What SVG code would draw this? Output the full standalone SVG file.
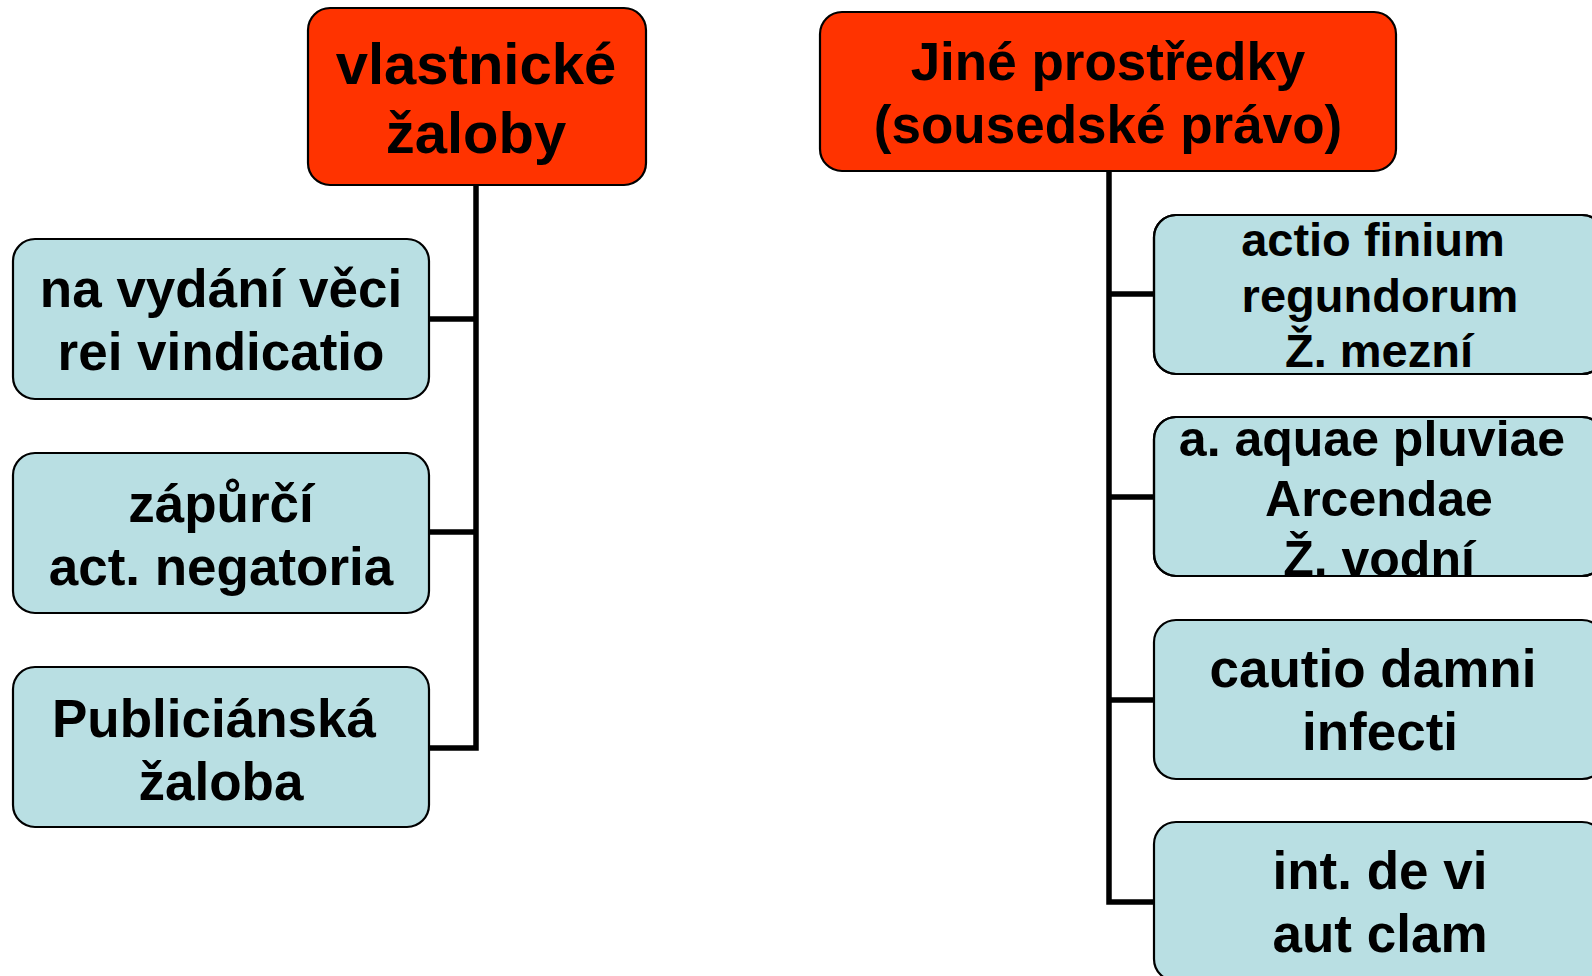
<svg xmlns="http://www.w3.org/2000/svg" width="1592" height="976" viewBox="0 0 1592 976">
<style>
.hdr{fill:#FF3300;stroke:#000;stroke-width:2.2}
.child{fill:#B9DFE3;stroke:#000;stroke-width:2.2}
.edge{fill:none;stroke:#000;stroke-width:2.2}
.t{font-family:"Liberation Sans",Arial,sans-serif;font-weight:bold;fill:#000;text-anchor:middle}
.conn{fill:none;stroke:#000;stroke-width:5.5;stroke-linecap:square;stroke-linejoin:miter}
</style>
<rect width="1592" height="976" fill="#fff"/>
<g id="connectors">
<path class="conn" d="M476,186 V748 M429,319 H476 M429,532 H476 M429,748 H476"/>
<path class="conn" d="M1109,171 V902 M1109,294 H1154 M1109,497 H1154 M1109,700 H1154 M1109,902 H1154"/>
</g>
<g id="vlastnicke">
<rect class="hdr" x="308" y="8" width="338" height="177" rx="22"/>
<text class="t" font-size="58"><tspan x="476" y="84">vlastnické</tspan><tspan x="476" y="153">žaloby</tspan></text>
</g>
<g id="jine">
<rect class="hdr" x="820" y="12" width="576" height="159" rx="22"/>
<text class="t" font-size="53"><tspan x="1108" y="80">Jiné prostředky</tspan><tspan x="1108" y="143">(sousedské právo)</tspan></text>
</g>
<g id="rei-vindicatio">
<rect class="child" x="13" y="239" width="416" height="160" rx="22"/>
<text class="t" font-size="53"><tspan x="221" y="307">na vydání věci</tspan><tspan x="221" y="370">rei vindicatio</tspan></text>
</g>
<g id="negatoria">
<rect class="child" x="13" y="453" width="416" height="160" rx="22"/>
<text class="t" font-size="53"><tspan x="221" y="522">zápůrčí</tspan><tspan x="221" y="585">act. negatoria</tspan></text>
</g>
<g id="publiciana">
<rect class="child" x="13" y="667" width="416" height="160" rx="22"/>
<text class="t" font-size="53"><tspan x="214" y="737">Publiciánská</tspan><tspan x="221" y="800">žaloba</tspan></text>
</g>
<g id="finium">
<rect class="child" x="1154" y="215" width="450" height="159" rx="22"/>
<text class="t" font-size="47"><tspan x="1373" y="256">actio finium</tspan><tspan x="1380" y="312">regundorum</tspan><tspan x="1379" y="367">Ž. mezní</tspan></text>
<rect class="edge" x="1154" y="215" width="450" height="159" rx="22"/>
</g>
<g id="aquae">
<rect class="child" x="1154" y="417" width="450" height="159" rx="22"/>
<text class="t" font-size="50"><tspan x="1372" y="456">a. aquae pluviae</tspan><tspan x="1379" y="516">Arcendae</tspan><tspan x="1379" y="576">Ž. vodní</tspan></text>
<rect class="edge" x="1154" y="417" width="450" height="159" rx="22"/>
</g>
<g id="cautio">
<rect class="child" x="1154" y="620" width="450" height="159" rx="22"/>
<text class="t" font-size="53"><tspan x="1373" y="687">cautio damni</tspan><tspan x="1380" y="750">infecti</tspan></text>
</g>
<g id="interdictum">
<rect class="child" x="1154" y="822" width="450" height="159" rx="22"/>
<text class="t" font-size="53"><tspan x="1380" y="889">int. de vi</tspan><tspan x="1380" y="952">aut clam</tspan></text>
</g>
</svg>
